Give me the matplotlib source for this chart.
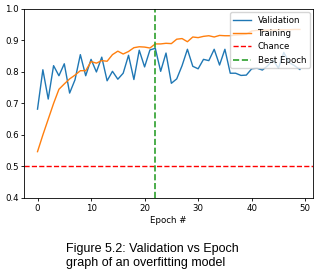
import matplotlib.pyplot as plt

# Datos
epocas = list(range(50))
validacion = [0.682, 0.807, 0.714, 0.820, 0.788, 0.826, 0.733, 0.775, 0.855, 0.788,
              0.840, 0.800, 0.847, 0.772, 0.802, 0.777, 0.796, 0.853, 0.776, 0.869,
              0.816, 0.870, 0.875, 0.802, 0.860, 0.764, 0.778, 0.820, 0.872, 0.818,
              0.810, 0.840, 0.836, 0.872, 0.822, 0.872, 0.796, 0.796, 0.789, 0.790,
              0.810, 0.812, 0.806, 0.820, 0.838, 0.812, 0.862, 0.830, 0.820, 0.808]
entrenamiento = [0.547, 0.600, 0.650, 0.700, 0.745, 0.762, 0.778, 0.790, 0.804, 0.804,
                 0.833, 0.828, 0.836, 0.834, 0.855, 0.866, 0.857, 0.865, 0.877, 0.880,
                 0.879, 0.876, 0.889, 0.889, 0.891, 0.890, 0.904, 0.906, 0.896, 0.911,
                 0.909, 0.913, 0.915, 0.911, 0.916, 0.915, 0.915, 0.917, 0.918, 0.920,
                 0.930, 0.932, 0.932, 0.933, 0.933, 0.934, 0.934, 0.934, 0.935, 0.935]
azar = 0.5
mejor_epoca = 22
pie = "Figure 5.2: Validation vs Epoch\ngraph of an overfitting model"

fig = plt.figure(figsize=(3.21, 2.80), dpi=100)
ax = fig.add_axes([0.076, 0.293, 0.899, 0.675])

ax.plot(epocas, validacion, color="tab:blue", lw=1.0, label="Validation")
ax.plot(epocas, entrenamiento, color="tab:orange", lw=1.0, label="Training")
ax.axhline(azar, color="red", ls="--", lw=1.0, label="Chance")
ax.axvline(mejor_epoca, color="tab:green", ls="--", lw=1.2, label="Best Epoch")

ax.set_ylim(0.4, 1.0)
ax.set_xlabel("Epoch #", fontsize=6.2, labelpad=2)
ax.tick_params(labelsize=6.2, length=2.2, width=0.6, pad=2)
for s in ax.spines.values():
    s.set_linewidth(0.6)
ax.legend(loc="upper right", fontsize=6.2, handlelength=2.0, borderaxespad=0.4)

fig.text(0.205, 0.133, pie, fontsize=9, family="Liberation Sans",
         va="top", ha="left", linespacing=1.2)

fig.savefig("out.png", dpi=100)
